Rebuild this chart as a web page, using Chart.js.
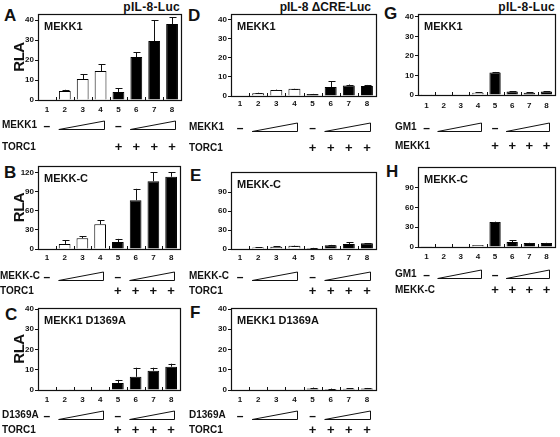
<!DOCTYPE html>
<html>
<head>
<meta charset="utf-8">
<script src="https://cdn.jsdelivr.net/npm/chart.js@4.4.1/dist/chart.umd.min.js"></script>
<style>
  body { margin: 0; background: #fff; }
  #fig { position: relative; width: 560px; height: 437px; font-family: "Liberation Sans", Arial, sans-serif; font-weight: bold; color: #111; }
  #fig canvas { position: absolute; left: 0; top: 0; }
  .lbl { position: absolute; line-height: 1; white-space: nowrap; }
  .letter { font-size: 17px; }
  .head { font-size: 12px; letter-spacing: 0.3px; text-align: right; }
</style>
</head>
<body>
<div id="fig">
  <div class="lbl letter" style="left:4px;top:7px">A</div>
  <div class="lbl letter" style="left:4px;top:164px">B</div>
  <div class="lbl letter" style="left:5px;top:306px">C</div>
  <div class="lbl letter" style="left:188px;top:7px">D</div>
  <div class="lbl letter" style="left:190px;top:167px">E</div>
  <div class="lbl letter" style="left:190px;top:304px">F</div>
  <div class="lbl letter" style="left:384px;top:5px">G</div>
  <div class="lbl letter" style="left:386px;top:163px">H</div>
  <div class="lbl head" style="right:380px;top:1px">pIL-8-Luc</div>
  <div class="lbl head" style="right:189px;top:1px;letter-spacing:0">pIL-8 ΔCRE-Luc</div>
  <div class="lbl head" style="right:5px;top:1px">pIL-8-Luc</div>
</div>
<script>
const lanes = ["1", "2", "3", "4", "5", "6", "7", "8"];

// pIL-8-Luc, +/- TORC1
const mekk1Rla = [0.3, 4.5, 10.5, 14.5, 4, 21.5, 29.5, 38];
const mekk1Sd = [0, 0.6, 2.5, 3.5, 2, 2.3, 10.5, 3.5];
const mekkcRla = [0, 8, 17, 39, 11, 77, 107, 114];
const mekkcSd = [0, 6, 3, 6, 5, 18, 14, 7];
const d1369aRla = [0.3, 0.1, 0.2, 0.2, 3.5, 6.5, 9.5, 11.5];
const d1369aSd = [0, 0, 0, 0, 1.5, 4.5, 1.5, 1.5];

// pIL-8 dCRE-Luc, +/- TORC1
const creMekk1Rla = [0, 1.5, 3.2, 3.8, 1, 4.7, 5.5, 5.2];
const creMekk1Sd = [0, 0.2, 0.2, 0.1, 0.1, 3, 0.5, 0.6];
const creMekkcRla = [0, 2.5, 3.5, 5, 1.5, 6, 8, 9];
const creMekkcSd = [0, 0.5, 0.5, 0.5, 0.3, 0.5, 2.5, 0.5];
const creD1369aRla = [0, 0, 0, 0, 0.7, 0.5, 0.6, 0.7];
const creD1369aSd = [0, 0, 0, 0, 0.5, 0.2, 0.2, 0.3];

// pIL-8-Luc, +/- GM1
const gmMekk1Rla = [0.4, 0, 0, 1.2, 11.5, 1.8, 1.2, 1.8];
const gmMekk1Sd = [0, 0, 0, 0.1, 0.3, 0.1, 0.1, 0.1];
const gmMekkcRla = [1, 0, 0, 3, 38, 7.5, 6, 6];
const gmMekkcSd = [0, 0, 0, 0, 0.5, 3, 0.3, 0.3];

const ticks40 = [0, 10, 20, 30, 40];
const ticks120 = [0, 30, 60, 90, 120];
const ticks90 = [0, 30, 60, 90];

const W = 560, H = 437;
const Y_W = 30;   // width kept for y tick labels
const X_H = 20;   // height kept for lane numbers

// box = [left, top, right, bottom]; rows = [titration row, fixed row]
const panels = [
  { values: mekk1Rla, sd: mekk1Sd, max: 43, ticks: ticks40, box: [38, 14, 181, 100], lanesY: 110, rows: [125, 147], labelX: 2, inner: "MEKK1", titrated: "MEKK1", fixed: "TORC1", rla: true },
  { values: mekkcRla, sd: mekkcSd, max: 131, ticks: ticks120, box: [38, 166, 180, 249], lanesY: 258, rows: [276, 291], labelX: 0, inner: "MEKK-C", titrated: "MEKK-C", fixed: "TORC1", rla: true },
  { values: d1369aRla, sd: d1369aSd, max: 40.5, ticks: ticks40, box: [38, 308, 180, 390], lanesY: 400, rows: [415, 430], labelX: 2, inner: "MEKK1 D1369A", titrated: "D1369A", fixed: "TORC1", rla: true },
  { values: creMekk1Rla, sd: creMekk1Sd, max: 43, ticks: ticks40, box: [231, 14, 376, 96], lanesY: 104, rows: [127, 148], labelX: 189, inner: "MEKK1", titrated: "MEKK1", fixed: "TORC1" },
  { values: creMekkcRla, sd: creMekkcSd, max: 122, ticks: ticks90, box: [231, 172, 376, 249], lanesY: 258, rows: [276, 291], labelX: 189, inner: "MEKK-C", titrated: "MEKK-C", fixed: "TORC1" },
  { values: creD1369aRla, sd: creD1369aSd, max: 40.5, ticks: ticks40, box: [231, 308, 376, 390], lanesY: 400, rows: [415, 430], labelX: 189, inner: "MEKK1 D1369A", titrated: "D1369A", fixed: "TORC1" },
  { values: gmMekk1Rla, sd: gmMekk1Sd, max: 41.5, ticks: ticks40, box: [418, 14, 555, 95], lanesY: 106, rows: [127, 146], labelX: 395, inner: "MEKK1", titrated: "GM1", fixed: "MEKK1" },
  { values: gmMekkcRla, sd: gmMekkcSd, max: 121, ticks: ticks90, box: [418, 167, 555, 247], lanesY: 257, rows: [274, 290], labelX: 395, inner: "MEKK-C", titrated: "GM1", fixed: "MEKK-C" }
];

const FONT = '"Liberation Sans", Arial, sans-serif';

const panelDecor = {
  id: "panelDecor",
  afterDraw(chart) {
    const p = chart.options.plugins.panelDecor.panel;
    const { ctx, chartArea: a } = chart;
    const x = chart.scales.x, y = chart.scales.y;
    const lx = i => x.getPixelForValue(i);
    ctx.save();
    ctx.strokeStyle = "#111";
    ctx.fillStyle = "#111";

    // frame
    ctx.lineWidth = 1.2;
    ctx.strokeRect(Math.round(a.left) + 0.5, Math.round(a.top) + 0.5, Math.round(a.right - a.left), Math.round(a.bottom - a.top));

    // inward ticks between lanes
    ctx.lineWidth = 1;
    ctx.beginPath();
    for (let i = 1; i < lanes.length; i++) {
      const bx = Math.round((lx(i - 1) + lx(i)) / 2) + 0.5;
      ctx.moveTo(bx, a.bottom);
      ctx.lineTo(bx, a.bottom - 3);
    }
    ctx.stroke();

    // y tick labels
    ctx.font = "bold 8px " + FONT;
    ctx.textAlign = "right";
    ctx.textBaseline = "middle";
    y.ticks.forEach(t => ctx.fillText(String(t.value), a.left - 4, y.getPixelForValue(t.value)));

    // error bars
    const meta = chart.getDatasetMeta(0);
    meta.data.forEach((bar, i) => {
      const sd = p.sd[i];
      if (!sd) return;
      const top = y.getPixelForValue(p.values[i] + sd);
      const bx = Math.round(bar.x) + 0.5;
      ctx.beginPath();
      ctx.moveTo(bx, bar.y);
      ctx.lineTo(bx, top);
      ctx.moveTo(bx - 3, Math.round(top) + 0.5);
      ctx.lineTo(bx + 4, Math.round(top) + 0.5);
      ctx.stroke();
    });

    // label inside the box
    ctx.font = "bold 11px " + FONT;
    ctx.textAlign = "left";
    ctx.textBaseline = "top";
    ctx.fillText(p.inner, a.left + 6, a.top + 7);

    // RLA axis title
    if (p.rla) {
      ctx.save();
      ctx.translate(20, (a.top + a.bottom) / 2);
      ctx.rotate(-Math.PI / 2);
      ctx.font = "bold 15px " + FONT;
      ctx.letterSpacing = "-0.5px";
      ctx.textAlign = "center";
      ctx.textBaseline = "middle";
      ctx.fillText("RLA", 0, 0);
      ctx.restore();
    }

    // treatment rows
    const [r1, r2] = p.rows;
    ctx.font = "bold 10px " + FONT;
    ctx.textAlign = "left";
    ctx.textBaseline = "middle";
    ctx.fillText(p.titrated, p.labelX, r1);
    ctx.fillText(p.fixed, p.labelX, r2);

    ctx.textAlign = "center";
    ctx.font = "bold 12px " + FONT;
    [0, 4].forEach(i => ctx.fillText("\u2013", lx(i), r1 + 2));

    ctx.fillStyle = "#fff";
    [[1, 3], [5, 7]].forEach(([s, e]) => {
      const x0 = lx(s) - 6, x1 = Math.round(lx(e) + 3) + 0.5;
      ctx.beginPath();
      ctx.moveTo(x0, r1 + 4.5);
      ctx.lineTo(x1, r1 + 4.5);
      ctx.lineTo(x1, r1 - 4);
      ctx.closePath();
      ctx.fill();
      ctx.stroke();
    });

    ctx.fillStyle = "#111";
    ctx.font = "bold 13px " + FONT;
    [4, 5, 6, 7].forEach(i => ctx.fillText("+", lx(i), r2));
    ctx.restore();
  }
};

const fig = document.getElementById("fig");

panels.forEach(p => {
  const canvas = document.createElement("canvas");
  canvas.width = W;
  canvas.height = H;
  fig.appendChild(canvas);

  const [l, t, r, b] = p.box;
  new Chart(canvas, {
    type: "bar",
    data: {
      labels: lanes,
      datasets: [{
        data: p.values,
        backgroundColor: lanes.map((v, i) => i < 4 ? "#fff" : "#000"),
        borderColor: "#000",
        borderWidth: 1,
        borderSkipped: "bottom",
        barPercentage: 0.66,
        categoryPercentage: 1
      }]
    },
    options: {
      responsive: false,
      animation: false,
      events: [],
      devicePixelRatio: 1,
      layout: {
        padding: { left: l - Y_W, top: t, right: W - r, bottom: H - b - X_H }
      },
      plugins: {
        legend: { display: false },
        tooltip: { enabled: false },
        panelDecor: { panel: p }
      },
      scales: {
        x: {
          grid: { display: false, drawTicks: false },
          border: { display: false },
          ticks: {
            color: "#111",
            font: { family: FONT, size: 8, weight: "bold" },
            padding: Math.max(0, p.lanesY - b - 5),
            maxRotation: 0,
            autoSkip: false
          },
          afterFit: s => { s.height = X_H; }
        },
        y: {
          min: 0,
          max: p.max,
          afterBuildTicks: s => { s.ticks = p.ticks.map(v => ({ value: v })); },
          grid: { drawOnChartArea: false, drawTicks: true, tickLength: 3, color: "#111" },
          border: { display: false },
          ticks: { display: false },
          afterFit: s => { s.width = Y_W; }
        }
      }
    },
    plugins: [panelDecor]
  });
});
</script>
</body>
</html>
